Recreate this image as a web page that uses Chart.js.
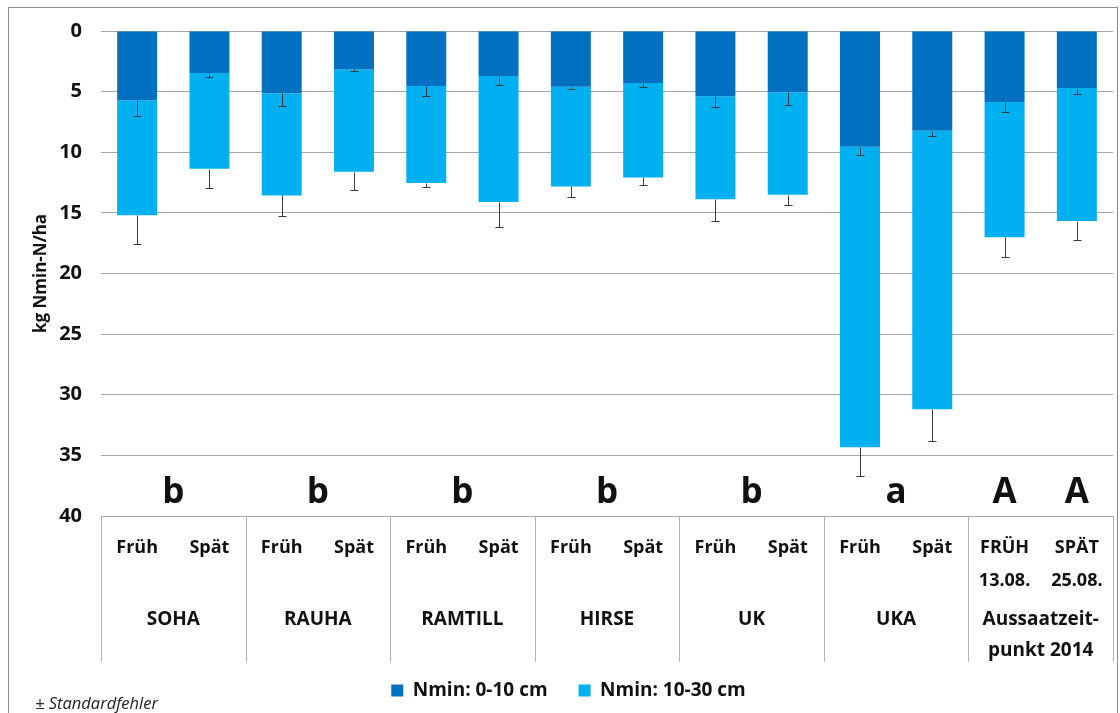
<!DOCTYPE html>
<html>
<head>
<meta charset="utf-8">
<script src="https://cdn.jsdelivr.net/npm/chart.js@4/dist/chart.umd.min.js"></script>
<style>
  body { margin: 0; background: #fff; }
  #wrap { position: relative; width: 1120px; height: 713px; overflow: hidden; }
  #frame { position: absolute; left: 8px; top: 7px; width: 1110px; height: 720px; border: 1px solid #8c8c8c; box-sizing: border-box; }
  #note { position: absolute; left: 35px; top: 691px; font: italic 16.5px "Open Sans", sans-serif; color: #222; }
  canvas { position: absolute; left: 0; top: 0; }
</style>
</head>
<body>
<div id="wrap">
  <div id="frame"></div>
  <canvas id="chart" width="1120" height="713"></canvas>
  <div id="note">± Standardfehler</div>
</div>
<script>
// bar labels (first row under the plot)
const categories = ['Früh', 'Spät', 'Früh', 'Spät', 'Früh', 'Spät', 'Früh', 'Spät',
  'Früh', 'Spät', 'Früh', 'Spät', ['FRÜH', '13.08.'], ['SPÄT', '25.08.']];
const groupNames = ['SOHA', 'RAUHA', 'RAMTILL', 'HIRSE', 'UK', 'UKA', ['Aussaatzeit-', 'punkt 2014']];
const groupLetters = ['b', 'b', 'b', 'b', 'b', 'a', ''];
const dateLetters = ['A', 'A']; // over the last two bars

// kg Nmin-N/ha
const nmin0to10 = [5.71, 3.47, 5.14, 3.17, 4.54, 3.72, 4.59, 4.29, 5.39, 5.06, 9.54, 8.23, 5.85, 4.70];
const nmin10to30 = [9.49, 7.90, 8.42, 8.44, 8.00, 10.38, 8.23, 7.79, 8.49, 8.44, 24.80, 22.97, 11.17, 10.96];
// standard errors (drawn one-sided, downward)
const err0to10 = [1.34, 0.30, 1.01, 0.11, 0.79, 0.76, 0.16, 0.30, 0.90, 1.06, 0.71, 0.46, 0.79, 0.46];
const err10to30 = [2.34, 1.58, 1.69, 1.50, 0.33, 2.05, 0.87, 0.62, 1.78, 0.84, 2.38, 2.65, 1.58, 1.56];

const yTicks = [0, 5, 10, 15, 20, 25, 30, 35, 40];
const FONT = '"Open Sans", sans-serif';

const errorBars = {
  id: 'errorBars',
  afterDatasetsDraw(chart) {
    const ctx = chart.ctx;
    const y = chart.scales.y;
    const errs = [err0to10, err10to30];
    ctx.save();
    ctx.strokeStyle = '#3a3a3a';
    ctx.lineWidth = 1;
    chart.data.datasets.forEach((ds, i) => {
      const meta = chart.getDatasetMeta(i);
      meta.data.forEach((bar, j) => {
        let top = 0;
        for (let k = 0; k <= i; k++) top += chart.data.datasets[k].data[j];
        const y0 = Math.round(y.getPixelForValue(top)) + 0.5;
        const y1 = Math.round(y.getPixelForValue(top + errs[i][j])) + 0.5;
        const x = Math.round(bar.x) + 0.5;
        ctx.beginPath();
        ctx.moveTo(x, y0);
        ctx.lineTo(x, y1);
        ctx.moveTo(x - 4, y1);
        ctx.lineTo(x + 4, y1);
        ctx.stroke();
      });
    });
    ctx.restore();
  }
};

const groupTable = {
  id: 'groupTable',
  afterDraw(chart) {
    const ctx = chart.ctx;
    const x = chart.scales.x;
    const area = chart.chartArea;
    const px = i => x.getPixelForValue(i);
    ctx.save();
    // dividers between groups
    ctx.strokeStyle = '#b4b4b4';
    ctx.lineWidth = 1;
    for (let g = 0; g <= groupNames.length; g++) {
      let bx;
      if (g === 0) bx = area.left;
      else if (g === groupNames.length) bx = area.right;
      else bx = (px(2 * g - 1) + px(2 * g)) / 2;
      bx = Math.round(bx) + 0.5;
      ctx.beginPath();
      ctx.moveTo(bx, area.bottom);
      ctx.lineTo(bx, 662);
      ctx.stroke();
    }
    ctx.fillStyle = '#111';
    ctx.textAlign = 'center';
    ctx.textBaseline = 'middle';
    // group names
    ctx.font = 'bold 19px ' + FONT;
    groupNames.forEach((name, g) => {
      const cx = (px(2 * g) + px(2 * g + 1)) / 2;
      const lines = Array.isArray(name) ? name : [name];
      lines.forEach((t, k) => ctx.fillText(t, cx, 620 + k * 31));
    });
    // significance letters
    ctx.font = 'bold 35px ' + FONT;
    groupLetters.forEach((t, g) => {
      if (!t) return;
      ctx.fillText(t, (px(2 * g) + px(2 * g + 1)) / 2, 493);
    });
    dateLetters.forEach((t, k) => ctx.fillText(t, px(12 + k), 493));
    ctx.restore();
  }
};

new Chart(document.getElementById('chart'), {
  type: 'bar',
  data: {
    labels: categories,
    datasets: [
      { label: 'Nmin: 0-10 cm', data: nmin0to10, backgroundColor: '#0070C0', borderWidth: 0 },
      { label: 'Nmin: 10-30 cm', data: nmin10to30, backgroundColor: '#00B0F0', borderWidth: 0 }
    ]
  },
  options: {
    responsive: false,
    animation: false,
    devicePixelRatio: 1,
    datasets: { bar: { barPercentage: 0.553, categoryPercentage: 1 } },
    layout: { padding: { left: 24, right: 7, top: 25, bottom: 3 } },
    scales: {
      x: {
        stacked: true,
        grid: { display: false, drawTicks: false },
        border: { display: false },
        ticks: {
          color: '#111',
          font: { family: FONT, size: 18, weight: 'bold', lineHeight: 1.8 },
          padding: 16,
          maxRotation: 0,
          autoSkip: false
        },
        afterFit(scale) { scale.height = 153; }
      },
      y: {
        stacked: true,
        reverse: true,
        min: 0,
        max: 40,
        afterBuildTicks(scale) { scale.ticks = yTicks.map(v => ({ value: v })); },
        grid: { color: '#a6a6a6', lineWidth: 1, drawTicks: false },
        border: { display: false },
        ticks: {
          color: '#111',
          font: { family: FONT, size: 20, weight: 'bold' },
          padding: 19
        },
        title: {
          display: true,
          text: 'kg Nmin-N/ha',
          color: '#111',
          font: { family: FONT, size: 17, weight: 'bold' },
          padding: { top: 7, bottom: 0 }
        },
        afterFit(scale) { scale.width = 77; }
      }
    },
    plugins: {
      legend: {
        position: 'bottom',
        labels: {
          color: '#111',
          font: { family: FONT, size: 19, weight: 'bold' },
          boxWidth: 12,
          boxHeight: 12,
          padding: 12,
          generateLabels(chart) {
            const items = Chart.defaults.plugins.legend.labels.generateLabels(chart);
            items.forEach((it, i) => {
              it.lineWidth = 0;
              if (i < items.length - 1) it.text = it.text + '\u2003';
            });
            return items;
          }
        }
      },
      tooltip: { enabled: false }
    }
  },
  plugins: [errorBars, groupTable]
});
</script>
</body>
</html>
